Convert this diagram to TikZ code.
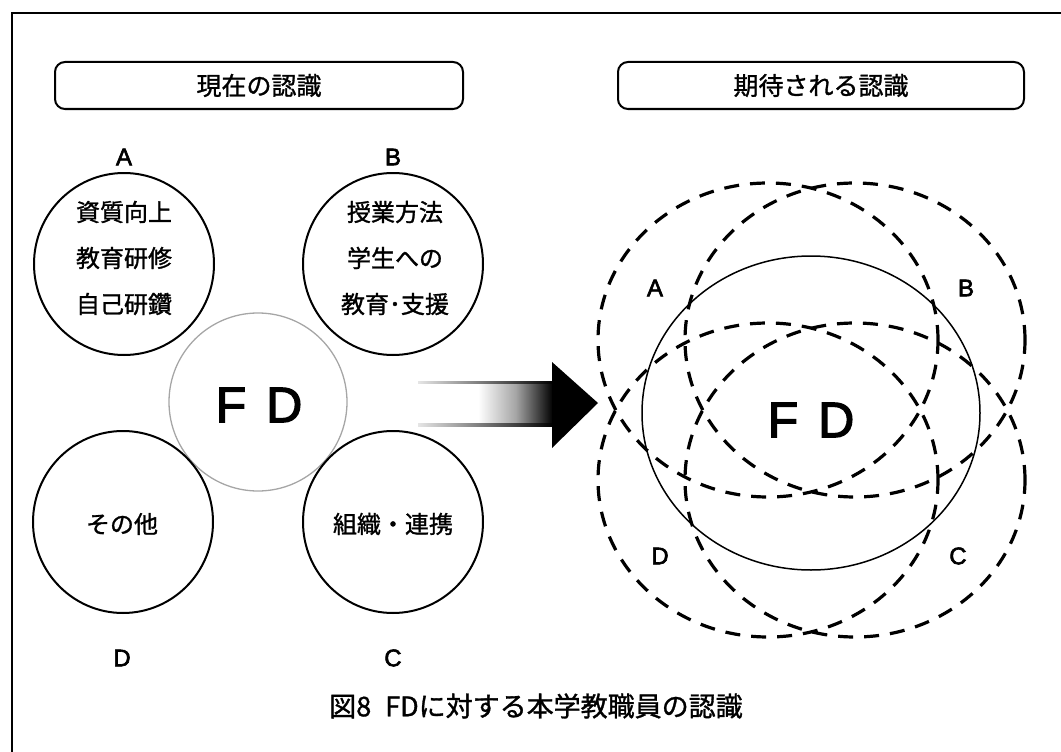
\documentclass[tikz,border=0pt]{standalone}
\usepackage{fontspec}
\setmainfont{Noto Sans CJK JP}[FakeBold=1.2]
\newfontfamily\lat{Liberation Sans}[FakeBold=2.5]
\usetikzlibrary{shapes.geometric}
\begin{document}
\begin{tikzpicture}[x=1pt,y=-1pt,
  hdr/.style={draw,line width=2pt,rounded corners=10pt,minimum height=47pt,inner sep=0pt,font=\fontsize{25}{30}\selectfont},
  bub/.style={draw,ellipse,line width=2pt,minimum width=180pt,minimum height=182pt,inner sep=0pt},
  bubtxt/.style={align=center,inner sep=0pt,font=\fontsize{24}{46}\selectfont},
  lbl/.style={inner sep=0pt,font=\lat\fontsize{24}{24}\selectfont},
  dset/.style={draw,ellipse,line width=3.2pt,dash pattern=on 15pt off 11pt,minimum width=340pt,minimum height=314pt,inner sep=0pt},
  big/.style={inner sep=0pt,font=\lat\fontsize{50}{50}\selectfont}]
\useasboundingbox (0,0) rectangle (1061,752);
% frame
\draw[line width=2.5pt] (12,752) -- (12,13) -- (1061,13);
% headers
\node[hdr,minimum width=408pt] (h1) at (259,85.5) {現在の認識};
\node[hdr,minimum width=406pt] (h2) at (821,85.5) {期待される認識};
% left panel
\node[draw=black!35,line width=1.3pt,ellipse,minimum width=178pt,minimum height=178pt,inner sep=0pt] (fdl) at (258,402) {};
\node[big] (fdltxt) at (259,405) {F\hspace{20pt}D};
\node[bub] (cA) at (124,264) {};
\node[bub] (cB) at (393,264) {};
\node[bub] (cD) at (123,522) {};
\node[bub] (cC) at (393,522) {};
\node[bubtxt] (tA) at (124,258) {資質向上\\教育研修\\自己研鑽};
\node[bubtxt] (tB) at (395,258) {授業方法\\学生への\\教育･支援};
\node[bubtxt] (tD) at (122,524) {その他};
\node[bubtxt] (tC) at (393,524) {組織・連携};
\node[lbl] (lA) at (124,157) {A};
\node[lbl] (lB) at (393,157) {B};
\node[lbl] (lD) at (122,658) {D};
\node[lbl] (lC) at (393,658) {C};
% arrow
\fill[white] (418,382) rectangle (553,425);
\shade[left color=white,right color=black,middle color=black!35] (478,382) rectangle (553,425);
\shade[left color=black!10,right color=black] (418,381) rectangle (553,383.5);
\shade[left color=black!10,right color=black] (418,423.5) rectangle (553,426);
\fill (552,362) -- (598,403) -- (552,448) -- cycle;
% right panel
\node[dset] (eA) at (768,340) {};
\node[dset] (eB) at (855,340) {};
\node[dset] (eC) at (855,480) {};
\node[dset] (eD) at (768,480) {};
\node[draw,ellipse,line width=1.5pt,minimum width=338pt,minimum height=314pt,inner sep=0pt] (fdr) at (811,413) {};
\node[big] (fdrtxt) at (811,420) {F\hspace{20pt}D};
\node[lbl] (rA) at (655,288) {A};
\node[lbl] (rB) at (966,288) {B};
\node[lbl] (rD) at (660,556) {D};
\node[lbl] (rC) at (958,556) {C};
% caption
\node[inner sep=0pt,font=\fontsize{27}{30}\selectfont] (cap) at (536,706) {図8\hspace{14pt}FDに対する本学教職員の認識};
\end{tikzpicture}
\end{document}
